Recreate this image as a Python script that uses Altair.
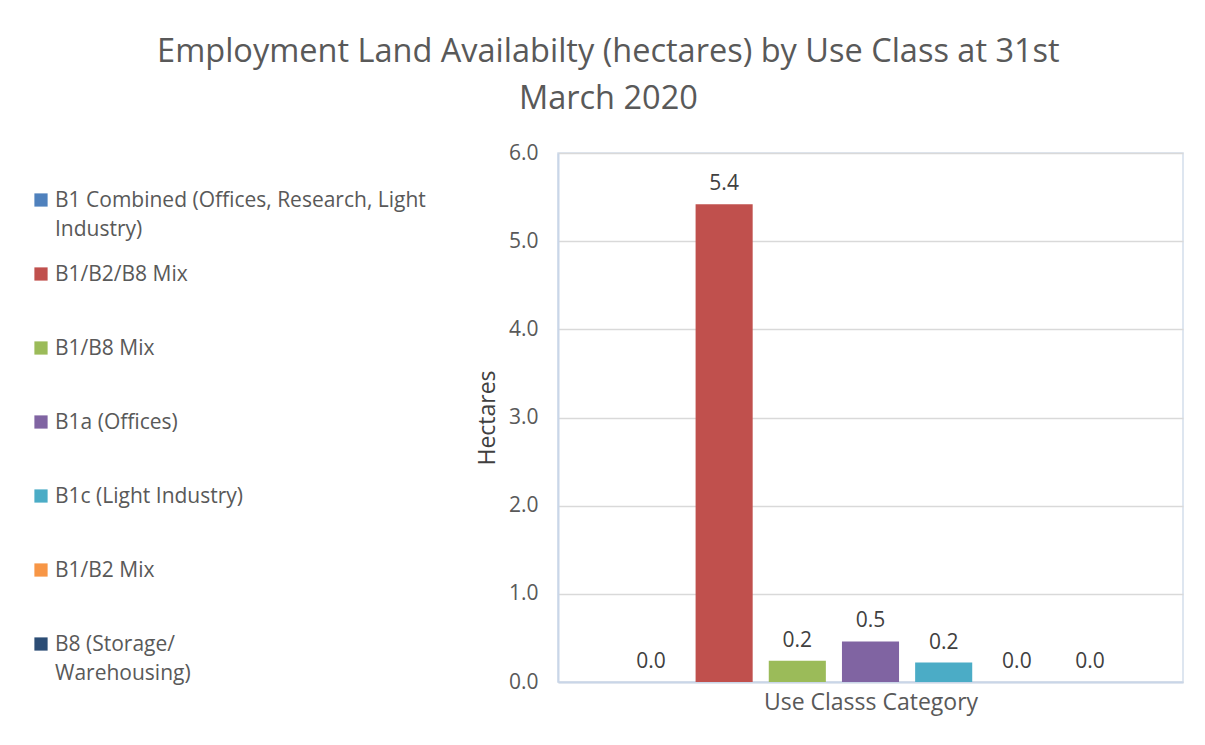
import altair as alt
import pandas as pd

series = [
    "B1 Combined (Offices, Research, Light Industry)",
    "B1/B2/B8 Mix",
    "B1/B8 Mix",
    "B1a (Offices)",
    "B1c (Light Industry)",
    "B1/B2 Mix",
    "B8 (Storage/ Warehousing)",
]
legend_text = [
    "B1 Combined (Offices, Research, Light\nIndustry)",
    "B1/B2/B8 Mix",
    "B1/B8 Mix",
    "B1a (Offices)",
    "B1c (Light Industry)",
    "B1/B2 Mix",
    "B8 (Storage/\nWarehousing)",
]
values = [0.0, 5.42, 0.24, 0.46, 0.22, 0.0, 0.0]
colors = ["#4F81BD", "#C0504D", "#9BBB59", "#8064A2", "#4BACC6", "#F79646", "#2C4D75"]
y_ticks = [0, 1, 2, 3, 4, 5, 6]

df = pd.DataFrame({"series": series, "value": values, "legend": legend_text})

FONT = "Open Sans"
TXT = "#595959"

color_scale = alt.Scale(domain=series, range=colors)

# Legend panel
leg_y = alt.Y("series:N", sort=series, axis=None,
              scale=alt.Scale(type="point", padding=0.635))
leg_base = alt.Chart(df).properties(width=420, height=538)
leg_sq = leg_base.mark_point(shape="square", filled=True, opacity=1, size=175).encode(
    x=alt.value(28), y=leg_y,
    color=alt.Color("series:N", scale=color_scale, legend=None),
)
leg_tx = leg_base.mark_text(align="left", baseline="alphabetic", dy=7, fontSize=21,
                            font=FONT, color=TXT, lineBreak="\n", lineHeight=29).encode(
    x=alt.value(42), y=leg_y, text="legend:N",
)
legend_chart = alt.layer(leg_sq, leg_tx).properties(view=alt.ViewConfig(stroke=None))

# Bar panel
x_enc = alt.X("series:N", sort=series,
              scale=alt.Scale(paddingInner=0.22, paddingOuter=0.88),
              axis=alt.Axis(labels=False, ticks=False, title="Use Classs Category",
                            domainColor="#c9d6e8", domainWidth=2,
                            titleFont=FONT, titleFontSize=23, titleFontWeight="normal",
                            titleColor=TXT, titlePadding=9))
y_enc = alt.Y("value:Q", scale=alt.Scale(domain=[0, 6], nice=False),
              axis=alt.Axis(values=y_ticks, format=".1f", ticks=False,
                            labelFont=FONT, labelFontSize=21, labelColor=TXT, labelPadding=20,
                            grid=True, gridColor="#d9d9d9", gridWidth=1.5,
                            domainColor="#c9d6e8", domainWidth=2,
                            title="Hectares", titleFont=FONT, titleFontSize=23,
                            titleFontWeight="normal", titleColor="#404040", titlePadding=9))
bar_base = alt.Chart(df).properties(width=625, height=529)
bars = bar_base.mark_bar().encode(
    x=x_enc, y=y_enc,
    color=alt.Color("series:N", scale=color_scale, legend=None),
)
labels = bar_base.mark_text(baseline="bottom", dy=-10, fontSize=21, font=FONT, color="#404040").encode(
    x=alt.X("series:N", sort=series), y=alt.Y("value:Q"),
    text=alt.Text("value:Q", format=".1f"),
)
bar_chart = alt.layer(bars, labels)

chart = alt.hconcat(legend_chart, bar_chart, spacing=125, bounds="flush").properties(
    title=alt.TitleParams(
        text=["Employment Land Availabilty (hectares) by Use Class at 31st", "March 2020"],
        anchor="middle", font=FONT, fontSize=32.5, dx=10,
        fontWeight="normal", color=TXT, lineHeight=47, offset=26,
    ),
    background="white",
    padding={"top": 27, "left": 5, "right": 5, "bottom": 5},
).configure_view(stroke="#d3deec", strokeWidth=1.5)

chart.save("out.html", embed_options={"renderer": "svg", "actions": False})
